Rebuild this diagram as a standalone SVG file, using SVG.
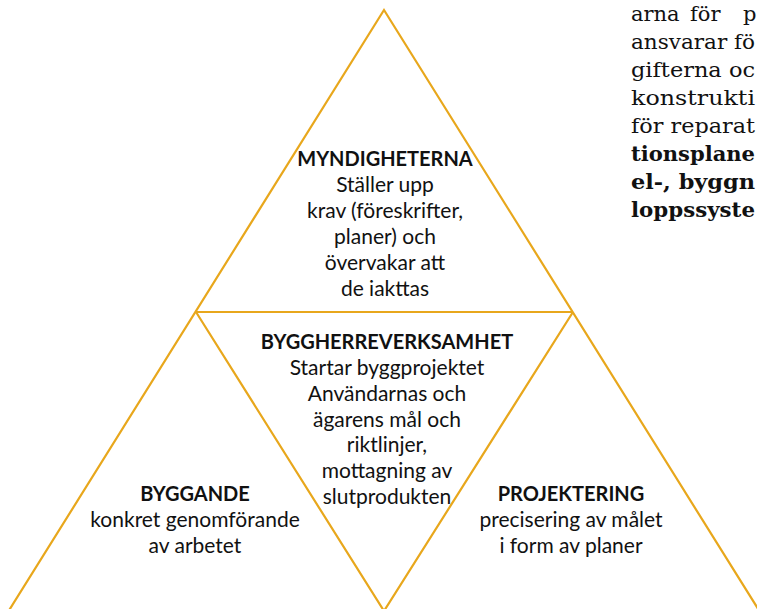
<svg xmlns="http://www.w3.org/2000/svg" width="757" height="609" viewBox="0 0 757 609">
<style>
.ln{fill:none;stroke:#E8A71C;stroke-width:2.2;stroke-linejoin:miter}
.t{font-family:Lato,"Open Sans","Liberation Sans",sans-serif;font-size:21px;fill:#111;text-anchor:middle}
.h{font-weight:bold;font-size:20px}
.s{font-family:"DejaVu Serif","Liberation Serif",serif;font-size:21px;fill:#111}
.sb{font-weight:bold}
</style>
<rect width="757" height="609" fill="#fff"/>
<g id="connectors">
<polyline class="ln" points="8,612 384,10 760,612"/>
<line class="ln" x1="196" y1="312" x2="573" y2="312"/>
<polyline class="ln" points="196,312 384,611 573,312"/>
</g>
<g id="myndigheterna">
<text class="t h" x="385" y="166">MYNDIGHETERNA</text>
<text class="t" x="385" y="192">Ställer upp</text>
<text class="t" x="385" y="218">krav (föreskrifter,</text>
<text class="t" x="385" y="244">planer) och</text>
<text class="t" x="385" y="270">övervakar att</text>
<text class="t" x="385" y="296">de iakttas</text>
</g>
<g id="byggherreverksamhet">
<text class="t h" x="387" y="349">BYGGHERREVERKSAMHET</text>
<text class="t" x="387" y="375">Startar byggprojektet</text>
<text class="t" x="387" y="401">Användarnas och</text>
<text class="t" x="387" y="427">ägarens mål och</text>
<text class="t" x="387" y="452">riktlinjer,</text>
<text class="t" x="387" y="478">mottagning av</text>
<text class="t" x="387" y="504">slutprodukten</text>
</g>
<g id="byggande">
<text class="t h" x="195" y="501">BYGGANDE</text>
<text class="t" x="195" y="527">konkret genomförande</text>
<text class="t" x="195" y="553">av arbetet</text>
</g>
<g id="projektering">
<text class="t h" x="571" y="501">PROJEKTERING</text>
<text class="t" x="571" y="527">precisering av målet</text>
<text class="t" x="571" y="553">i form av planer</text>
</g>
<g id="page-text">
<text class="s" y="21"><tspan x="631">arna</tspan><tspan x="690">för</tspan><tspan x="743">p</tspan></text>
<text class="s" x="631" y="49" textLength="124" lengthAdjust="spacingAndGlyphs">ansvarar fö</text>
<text class="s" x="631" y="77" textLength="124" lengthAdjust="spacingAndGlyphs">gifterna oc</text>
<text class="s" x="631" y="105" textLength="124" lengthAdjust="spacingAndGlyphs">konstrukti</text>
<text class="s" x="631" y="133" textLength="124" lengthAdjust="spacingAndGlyphs">för reparat</text>
<text class="s sb" x="631" y="161" textLength="124" lengthAdjust="spacingAndGlyphs">tionsplane</text>
<text class="s sb" x="631" y="189" textLength="124" lengthAdjust="spacingAndGlyphs">el-, byggn</text>
<text class="s sb" x="631" y="217" textLength="124" lengthAdjust="spacingAndGlyphs">loppssyste</text>
</g>
</svg>
